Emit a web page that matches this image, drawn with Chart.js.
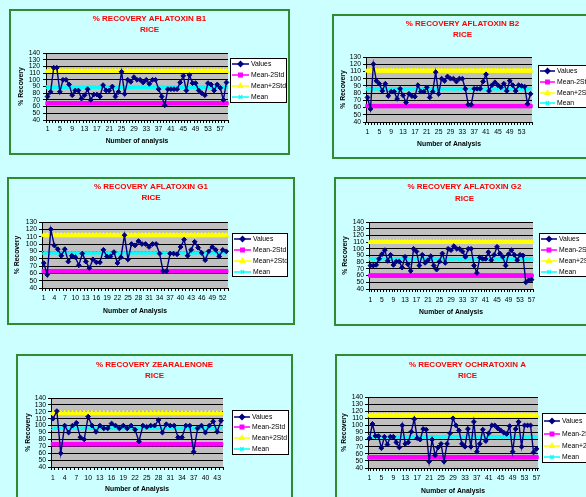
<!DOCTYPE html>
<html>
<head>
<meta charset="utf-8">
<title>% Recovery control charts - Rice</title>
<script src="https://cdn.jsdelivr.net/npm/chart.js@4/dist/chart.umd.min.js"></script>
<style>
  html, body { margin: 0; padding: 0; background: #CCFFFF; }
  body { position: relative; width: 586px; height: 497px; overflow: hidden; }
  .panel { position: absolute; box-sizing: border-box; border: 2px solid #2E8B2E; background: #CCFFFF; overflow: hidden; }
  .panel canvas { position: absolute; left: 0; top: 0; }
</style>
</head>
<body>
<div class="panel" id="pB1"><canvas></canvas></div>
<div class="panel" id="pB2"><canvas></canvas></div>
<div class="panel" id="pG1"><canvas></canvas></div>
<div class="panel" id="pG2"><canvas></canvas></div>
<div class="panel" id="pZEA"><canvas></canvas></div>
<div class="panel" id="pOTA"><canvas></canvas></div>
<script>
// ---- Recovery results (% recovery per analysis) ----
const b1Values = [75, 82, 118, 118, 82, 100, 100, 93, 77, 84, 84, 72, 77, 86, 70, 78, 78, 75, 92, 84,
  84, 90, 75, 82, 112, 79, 100, 97, 104, 100, 100, 96, 100, 94, 100, 100, 86, 75, 62, 86,
  86, 86, 86, 96, 106, 84, 107, 95, 95, 84, 80, 77, 95, 93, 84, 93, 88, 70, 96];
const b2Values = [74, 58, 120, 97, 93, 83, 93, 76, 82, 82, 72, 86, 77, 67, 79, 76, 75, 91, 82, 82,
  88, 74, 82, 109, 79, 100, 97, 103, 100, 100, 96, 100, 100, 86, 64, 64, 86, 86, 86, 96,
  106, 83, 91, 95, 91, 88, 93, 83, 97, 91, 83, 91, 90, 89, 65, 79];
const g1Values = [74, 58, 120, 98, 93, 84, 93, 76, 84, 82, 71, 87, 76, 67, 79, 75, 75, 92, 83, 83,
  89, 74, 82, 112, 79, 100, 98, 104, 100, 100, 96, 100, 100, 87, 63, 63, 87, 87, 86, 96,
  106, 84, 92, 103, 95, 88, 78, 90, 96, 92, 83, 92, 90];
const g2Values = [75, 75, 76, 85, 92, 98, 82, 91, 76, 81, 81, 72, 88, 77, 67, 100, 96, 75, 91, 79,
  83, 89, 75, 69, 81, 93, 79, 100, 98, 104, 100, 100, 96, 88, 100, 100, 75, 64, 87, 85,
  85, 95, 83, 91, 103, 93, 88, 75, 92, 98, 91, 83, 91, 90, 50, 53, 54];
const zeaValues = [110, 121, 60, 100, 90, 100, 104, 83, 80, 113, 100, 91, 100, 96, 96, 103, 100, 96, 100, 96,
  100, 94, 77, 100, 98, 100, 100, 108, 90, 102, 100, 100, 83, 83, 100, 100, 62, 96, 100, 90,
  100, 106, 91, 107];
const otaValues = [82, 102, 85, 85, 68, 84, 73, 84, 84, 76, 69, 100, 74, 76, 91, 109, 82, 80, 95, 94,
  49, 80, 58, 69, 74, 49, 74, 89, 110, 100, 93, 74, 70, 95, 70, 105, 63, 74, 94, 78,
  89, 100, 100, 96, 93, 90, 88, 99, 63, 95, 105, 70, 100, 100, 100, 62, 67];

// ---- Control limits: [Mean-2Std, Mean+2Std, Mean] ----
const b1Limits = [65, 113, 89];
const b2Limits = [62, 111, 86];
const g1Limits = [63, 112, 88];
const g2Limits = [60, 110, 85];
const zeaLimits = [73, 118, 96];
const otaLimits = [55, 114, 84];

// ---- Legend entries and axis text ----
const seriesNames = ['Values', 'Mean-2Std', 'Mean+2Std', 'Mean'];
const yAxisTitle = '% Recovery';

// ---- Panel geometry (page pixels) ----
const geoB1 = { box: [9, 9, 281, 146], plot: [46, 53, 228, 120], titleY: [19, 30], xTickY: 129, xTitleY: 141,
  yTitleX: 21, yTickGap: 6, legend: [230, 58, 57, 45], rows: [64, 75, 86, 97], line: [232, 249], text: 251 };
const geoB2 = { box: [332, 14, 261, 145], plot: [366, 57, 532, 122], titleY: [24, 35], xTickY: 132, xTitleY: 144,
  yTitleX: 343, yTickGap: 5, legend: [538, 65, 60, 43], rows: [71, 82, 93, 103], line: [540, 555], text: 557 };
const geoG1 = { box: [7, 177, 288, 148], plot: [42, 222, 228, 288], titleY: [187, 198], xTickY: 298, xTitleY: 311,
  yTitleX: 17, yTickGap: 5, legend: [232, 233, 56, 44], rows: [239, 250, 261, 272], line: [234, 251], text: 253 };
const geoG2 = { box: [334, 177, 261, 149], plot: [369, 222, 533, 289], titleY: [187, 199], xTickY: 300, xTitleY: 312,
  yTitleX: 345, yTickGap: 5, legend: [539, 233, 60, 44], rows: [239, 250, 261, 272], line: [541, 557], text: 559 };
const geoZEA = { box: [16, 354, 277, 160], plot: [51, 398, 223, 467], titleY: [365, 376], xTickY: 478, xTitleY: 489,
  yTitleX: 28, yTickGap: 5, legend: [232, 410, 57, 45], rows: [417, 427, 438, 449], line: [234, 250], text: 252 };
const geoOTA = { box: [335, 354, 265, 160], plot: [368, 397, 538, 468], titleY: [365, 376], xTickY: 478, xTitleY: 491,
  yTitleX: 344, yTickGap: 5, legend: [542, 413, 60, 50], rows: [421, 434, 446, 457], line: [544, 560], text: 562 };

const FONT = 'Arial, "Liberation Sans", Helvetica, sans-serif';
const NAVY = '#000080', MAGENTA = '#FF00FF', YELLOW = '#FFFF00', CYAN = '#00FFFF';

const panels = [
  { el: 'pB1', heading: ['% RECOVERY AFLATOXIN B1', 'RICE'], xTitle: 'Number of analysis', values: b1Values, limits: b1Limits, yMax: 140, every: 4, geo: geoB1 },
  { el: 'pB2', heading: ['% RECOVERY AFLATOXIN B2', 'RICE'], xTitle: 'Number of Analysis', values: b2Values, limits: b2Limits, yMax: 130, every: 4, geo: geoB2 },
  { el: 'pG1', heading: ['% RECOVERY AFLATOXIN G1', 'RICE'], xTitle: 'Number of Analysis', values: g1Values, limits: g1Limits, yMax: 130, every: 3, geo: geoG1 },
  { el: 'pG2', heading: ['% RECOVERY AFLATOXIN G2', 'RICE'], xTitle: 'Number of Analysis', values: g2Values, limits: g2Limits, yMax: 140, every: 4, geo: geoG2 },
  { el: 'pZEA', heading: ['% RECOVERY ZEARALENONE', 'RICE'], xTitle: 'Number of Analysis', values: zeaValues, limits: zeaLimits, yMax: 140, every: 3, geo: geoZEA },
  { el: 'pOTA', heading: ['% RECOVERY OCHRATOXIN A', 'RICE'], xTitle: 'Number of Analysis', values: otaValues, limits: otaLimits, yMax: 140, every: 4, geo: geoOTA }
];

// Grey plot-area fill behind the grid
const plotFill = {
  id: 'plotFill',
  beforeDraw(chart) {
    const { ctx, chartArea: a } = chart;
    ctx.save();
    ctx.fillStyle = '#C0C0C0';
    ctx.fillRect(a.left, a.top, a.right - a.left, a.bottom - a.top);
    ctx.restore();
  }
};

function drawMarker(ctx, style, x, y, r) {
  if (Chart.helpers && Chart.helpers.drawPoint) {
    Chart.helpers.drawPoint(ctx, { pointStyle: style, radius: r, borderWidth: 1, rotation: 0 }, x, y);
  } else {
    ctx.fillRect(x - r, y - r, 2 * r, 2 * r);
  }
}

// Boxed legend to the right of the plot, line sample + marker per series
const boxLegend = {
  id: 'boxLegend',
  afterDraw(chart, args, opts) {
    const g = opts.geo, ox = opts.ox, oy = opts.oy;
    const ctx = chart.ctx;
    const [lx, ly, lw, lh] = g.legend;
    ctx.save();
    ctx.fillStyle = '#FFFFFF';
    ctx.fillRect(lx - ox, ly - oy, lw, lh);
    ctx.strokeStyle = '#000000';
    ctx.lineWidth = 1;
    ctx.strokeRect(lx - ox + 0.5, ly - oy + 0.5, lw - 1, lh - 1);
    chart.data.datasets.forEach((ds, i) => {
      const y = g.rows[i] - oy;
      const x0 = g.line[0] - ox, x1 = g.line[1] - ox;
      ctx.strokeStyle = ds.borderColor;
      ctx.lineWidth = 1.5;
      ctx.beginPath();
      ctx.moveTo(x0, y);
      ctx.lineTo(x1, y);
      ctx.stroke();
      ctx.fillStyle = ds.pointBackgroundColor;
      ctx.strokeStyle = ds.pointBorderColor;
      drawMarker(ctx, ds.pointStyle, (x0 + x1) / 2, y, 2.4);
      ctx.fillStyle = '#000000';
      ctx.font = '6.8px ' + FONT;
      ctx.textAlign = 'left';
      ctx.textBaseline = 'middle';
      ctx.fillText(ds.label, g.text - ox, y + 0.5);
    });
    ctx.restore();
  }
};

function buildPanel(p) {
  const g = p.geo;
  const [bx, by, bw, bh] = g.box;
  const div = document.getElementById(p.el);
  Object.assign(div.style, { left: bx + 'px', top: by + 'px', width: bw + 'px', height: bh + 'px' });
  const cx = bx + 2, cy = by + 2, cw = bw - 4, ch = bh - 4;
  const canvas = div.querySelector('canvas');
  canvas.width = cw; canvas.height = ch;
  canvas.style.width = cw + 'px'; canvas.style.height = ch + 'px';

  const [pl, pt, pr, pb] = g.plot;
  const L = g.titleY[1] - g.titleY[0];
  const tPadTop = g.titleY[0] - cy - L / 2;
  const tPadBottom = (pt - cy) - tPadTop - 2 * L;
  const axFont = 6.8, axLH = axFont * 1.2;
  const labels = p.values.map((_, i) => String(i + 1));
  const level = (k) => p.values.map(() => p.limits[k]);

  const datasets = [
    { label: seriesNames[0], data: p.values, borderColor: NAVY, backgroundColor: NAVY,
      pointBackgroundColor: NAVY, pointBorderColor: NAVY, pointStyle: 'rectRot', pointRadius: 2.4, pointBorderWidth: 1, borderWidth: 1.4 },
    { label: seriesNames[1], data: level(0), borderColor: MAGENTA, backgroundColor: MAGENTA,
      pointBackgroundColor: MAGENTA, pointBorderColor: MAGENTA, pointStyle: 'rect', pointRadius: 2.4, pointBorderWidth: 1, borderWidth: 4 },
    { label: seriesNames[2], data: level(1), borderColor: YELLOW, backgroundColor: YELLOW,
      pointBackgroundColor: YELLOW, pointBorderColor: YELLOW, pointStyle: 'triangle', pointRadius: 2.8, pointBorderWidth: 1, borderWidth: 4 },
    { label: seriesNames[3], data: level(2), borderColor: CYAN, backgroundColor: CYAN,
      pointBackgroundColor: CYAN, pointBorderColor: CYAN, pointStyle: 'crossRot', pointRadius: 2.4, pointBorderWidth: 1.2, borderWidth: 3 }
  ].map(d => Object.assign(d, { xAxisID: 'x', yAxisID: 'y', tension: 0, fill: false }));

  new Chart(canvas, {
    type: 'line',
    data: { labels, datasets },
    plugins: [plotFill, boxLegend],
    options: {
      responsive: false,
      animation: false,
      devicePixelRatio: 1,
      events: [],
      layout: { padding: 0 },
      plugins: {
        legend: { display: false },
        tooltip: { enabled: false },
        title: {
          display: true, text: p.heading, color: '#FF0000',
          font: { family: FONT, size: 8, weight: 'bold', lineHeight: L + 'px' },
          padding: { top: tPadTop, bottom: tPadBottom }
        },
        boxLegend: { geo: g, ox: cx, oy: cy }
      },
      scales: {
        x: {
          type: 'category', offset: true,
          grid: { display: true, drawOnChartArea: false, drawTicks: true, tickLength: 3, color: '#000', offset: true },
          border: { display: true, color: '#000', width: 1 },
          ticks: {
            autoSkip: false, maxRotation: 0, minRotation: 0, color: '#000',
            padding: g.xTickY - pb - 3 - axLH / 2,
            font: { family: FONT, size: axFont },
            callback: (v, i) => (i % p.every === 0 ? labels[i] : '')
          },
          title: {
            display: true, text: p.xTitle, color: '#000',
            font: { family: FONT, size: axFont, weight: 'bold' },
            padding: { top: 0, bottom: (cy + ch) - g.xTitleY - axLH / 2 }
          },
          afterFit: (s) => { s.height = cy + ch - pb; }
        },
        y: {
          type: 'linear', position: 'left', min: 40, max: p.yMax,
          grid: { color: '#000', lineWidth: 1, drawTicks: true, tickLength: 3 },
          border: { display: true, color: '#000', width: 1 },
          ticks: { stepSize: 10, autoSkip: false, color: '#000', padding: g.yTickGap - 3, font: { family: FONT, size: axFont } },
          title: {
            display: true, text: yAxisTitle, color: '#000',
            font: { family: FONT, size: axFont, weight: 'bold' },
            padding: { top: g.yTitleX - cx - axLH / 2, bottom: 0 }
          },
          afterFit: (s) => { s.width = pl - cx; }
        },
        legendSpace: {
          axis: 'y', type: 'linear', position: 'right', display: true,
          grid: { display: false }, border: { display: false }, ticks: { display: false },
          afterFit: (s) => { s.width = cx + cw - pr; }
        }
      }
    }
  });
}

panels.forEach(buildPanel);
</script>
</body>
</html>
